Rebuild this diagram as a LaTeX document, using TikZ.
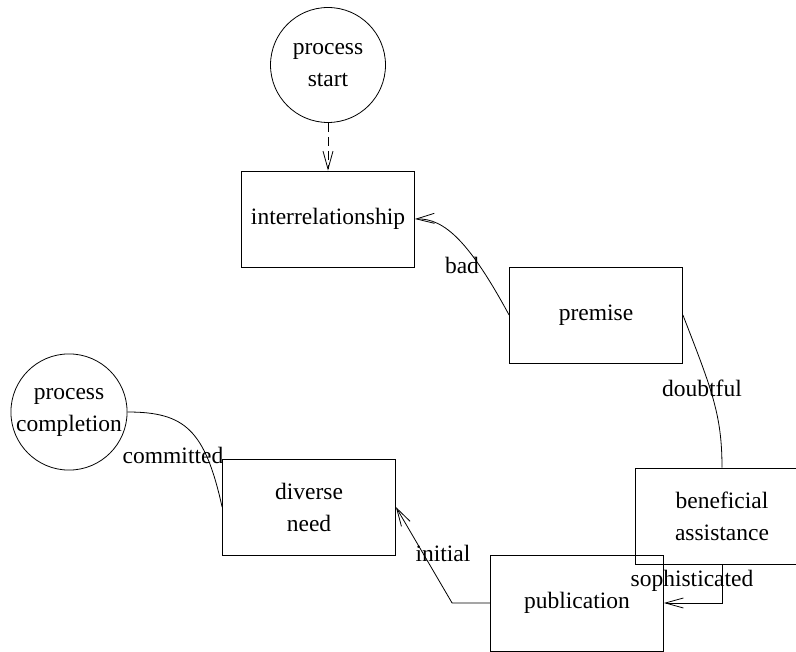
\documentclass[tikz,border=0pt]{standalone}
\usepackage{fontspec}
\setmainfont{Liberation Serif}
\usepackage{tikz}
\usetikzlibrary{arrows.meta, positioning}

\begin{document}
\begin{tikzpicture}[x=1pt, y=-1pt, line width=0.8pt,
    font=\fontsize{23.5}{32}\selectfont,
    stage/.style={draw, rectangle, minimum width=173pt, minimum height=96pt,
                  inner sep=0pt, align=center},
    term/.style={draw, circle, minimum size=115pt, inner sep=0pt, align=center},
    flow/.style={-{Straight Barb[length=18pt, width=10pt]}}]
  \useasboundingbox (0,0) rectangle (796,652);

  \node[term] (start) at (328,65) {process\\start};
  \node[stage] (inter) at (328,219) {interrelationship};
  \node[stage] (prem) at (596,315) {premise};
  \node[stage] (ben) at (722,516) {beneficial\\assistance};
  \node[stage] (pub) at (577,603) {publication};
  \node[stage] (div) at (309,507) {diverse\\need};
  \node[term] (done) at (69,412) {process\\completion};

  \draw[flow, dash pattern=on 9pt off 5pt] (start) -- (inter);
  \draw[flow] (prem.west) .. controls (470,243) and (445,218) .. (inter.east);
  \draw (prem.east) .. controls (712,390) and (722,415) .. (ben.north);
  \draw[flow] (ben.south) |- (pub.east);
  \draw[flow] (pub.west) -- ++(-38,0) -- (div.east);
  \draw (div.west) .. controls (205,430) and (185,412) .. (done.east);

  \node (bad) at (462,265) {bad};
  \node (doubtful) at (702,388) {doubtful};
  \node (soph) at (692,581) {sophisticated};
  \node (initial) at (443,553) {initial};
  \node (committed) at (173,455) {committed};
\end{tikzpicture}
\end{document}
